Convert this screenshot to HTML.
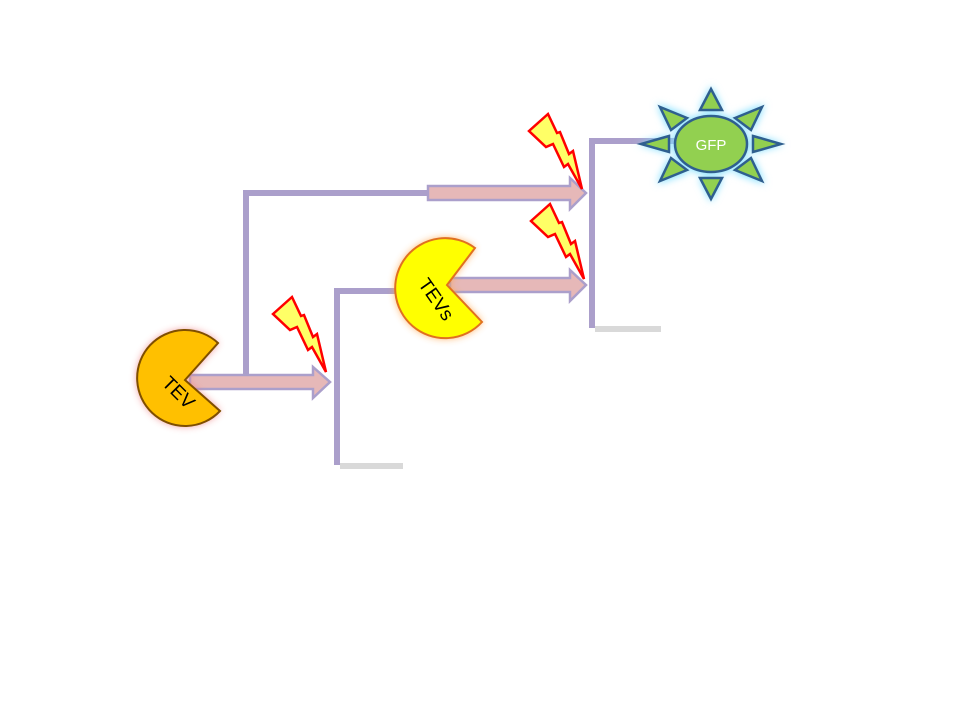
<!DOCTYPE html>
<html><head><meta charset="utf-8"><style>
html,body{margin:0;padding:0;background:#fff;}
svg{display:block;font-family:"Liberation Sans",sans-serif;}
</style></head><body>
<svg width="960" height="720" viewBox="0 0 960 720" xmlns="http://www.w3.org/2000/svg">
<defs>
<filter id="gr" x="-30%" y="-30%" width="160%" height="160%"><feGaussianBlur stdDeviation="4"/></filter>
</defs>
<g stroke="#ab9fcb" stroke-width="6" fill="none">
<polyline points="246,378 246,193 430,193"/>
<polyline points="337,465 337,291 405,291"/>
<polyline points="592,328 592,141 680,141"/>
</g>
<g stroke="#d9d9d9" stroke-width="6">
<line x1="340" y1="466" x2="403" y2="466"/>
<line x1="595" y1="329" x2="661" y2="329"/>
</g>
<g fill="#e6b8b8" stroke="#ab9fcb" stroke-width="2.5">
<polygon points="190,375 313,375 313,367 330,382 313,398 313,389 190,389"/>
<polygon points="428,186 570,186 570,178 586,193 570,209 570,200 428,200"/>
<polygon points="450,278 570,278 570,270 586,285 570,301 570,292 450,292"/>
</g>
<path d="M185,380 L218,343 A48,48 0 1 0 220,411 Z" fill="#f08080" filter="url(#gr)" opacity="0.9"/>
<path d="M185,380 L218,343 A48,48 0 1 0 220,411 Z" fill="#ffc000" stroke="#7f4f00" stroke-width="2"/>
<text x="0" y="0" font-size="19" transform="translate(174,397) rotate(45)" text-anchor="middle">TEV</text>
<path d="M447,285 L475,248 A50,50 0 1 0 482,322 Z" fill="#ffa040" filter="url(#gr)" opacity="0.9"/>
<path d="M447,285 L475,248 A50,50 0 1 0 482,322 Z" fill="#ffff00" stroke="#e07020" stroke-width="2"/>
<text x="0" y="0" font-size="19" transform="translate(431,303) rotate(55)" text-anchor="middle">TEVs</text>
<g fill="#ffff66" stroke="#ff0000" stroke-width="2.5" stroke-linejoin="miter">
<polygon id="b" points="273,314 292,297 301,316 304,315 313,337 317,334 326,372 312,347 308,350 297,327 290,330"/>
<polygon transform="translate(256,-183)" points="273,314 292,297 301,316 304,315 313,337 317,334 326,372 312,347 308,350 297,327 290,330"/>
<polygon transform="translate(258,-93)" points="273,314 292,297 301,316 304,315 313,337 317,334 326,372 312,347 308,350 297,327 290,330"/>
</g>
<g transform="translate(711,144)">
<g fill="#7fdfff" filter="url(#gr)">
<ellipse rx="38" ry="30"/>
<polygon points="-12,-34 0,-58 12,-34"/><polygon points="-12,34 0,58 12,34"/>
<polygon points="-42,-9 -73,0 -42,9"/><polygon points="42,-9 73,0 42,9"/>
<polygon points="-22,-28 -54,-40 -42,-14"/><polygon points="22,-28 54,-40 42,-14"/>
<polygon points="-22,28 -54,40 -42,14"/><polygon points="22,28 54,40 42,14"/>
</g>
<g fill="#92d050" stroke="#2f5f8f" stroke-width="2.5" stroke-linejoin="miter">
<polygon points="-11,-34 0,-55 11,-34"/><polygon points="-11,34 0,55 11,34"/>
<polygon points="-42,-8 -70,0 -42,8"/><polygon points="42,-8 70,0 42,8"/>
<polygon points="-24,-26 -51,-37 -40,-14"/><polygon points="24,-26 51,-37 40,-14"/>
<polygon points="-24,26 -51,37 -40,14"/><polygon points="24,26 51,37 40,14"/>
<ellipse rx="36" ry="28"/>
</g>
<text x="0" y="6" font-size="15" fill="#ffffff" text-anchor="middle">GFP</text>
</g>
</svg>
</body></html>
